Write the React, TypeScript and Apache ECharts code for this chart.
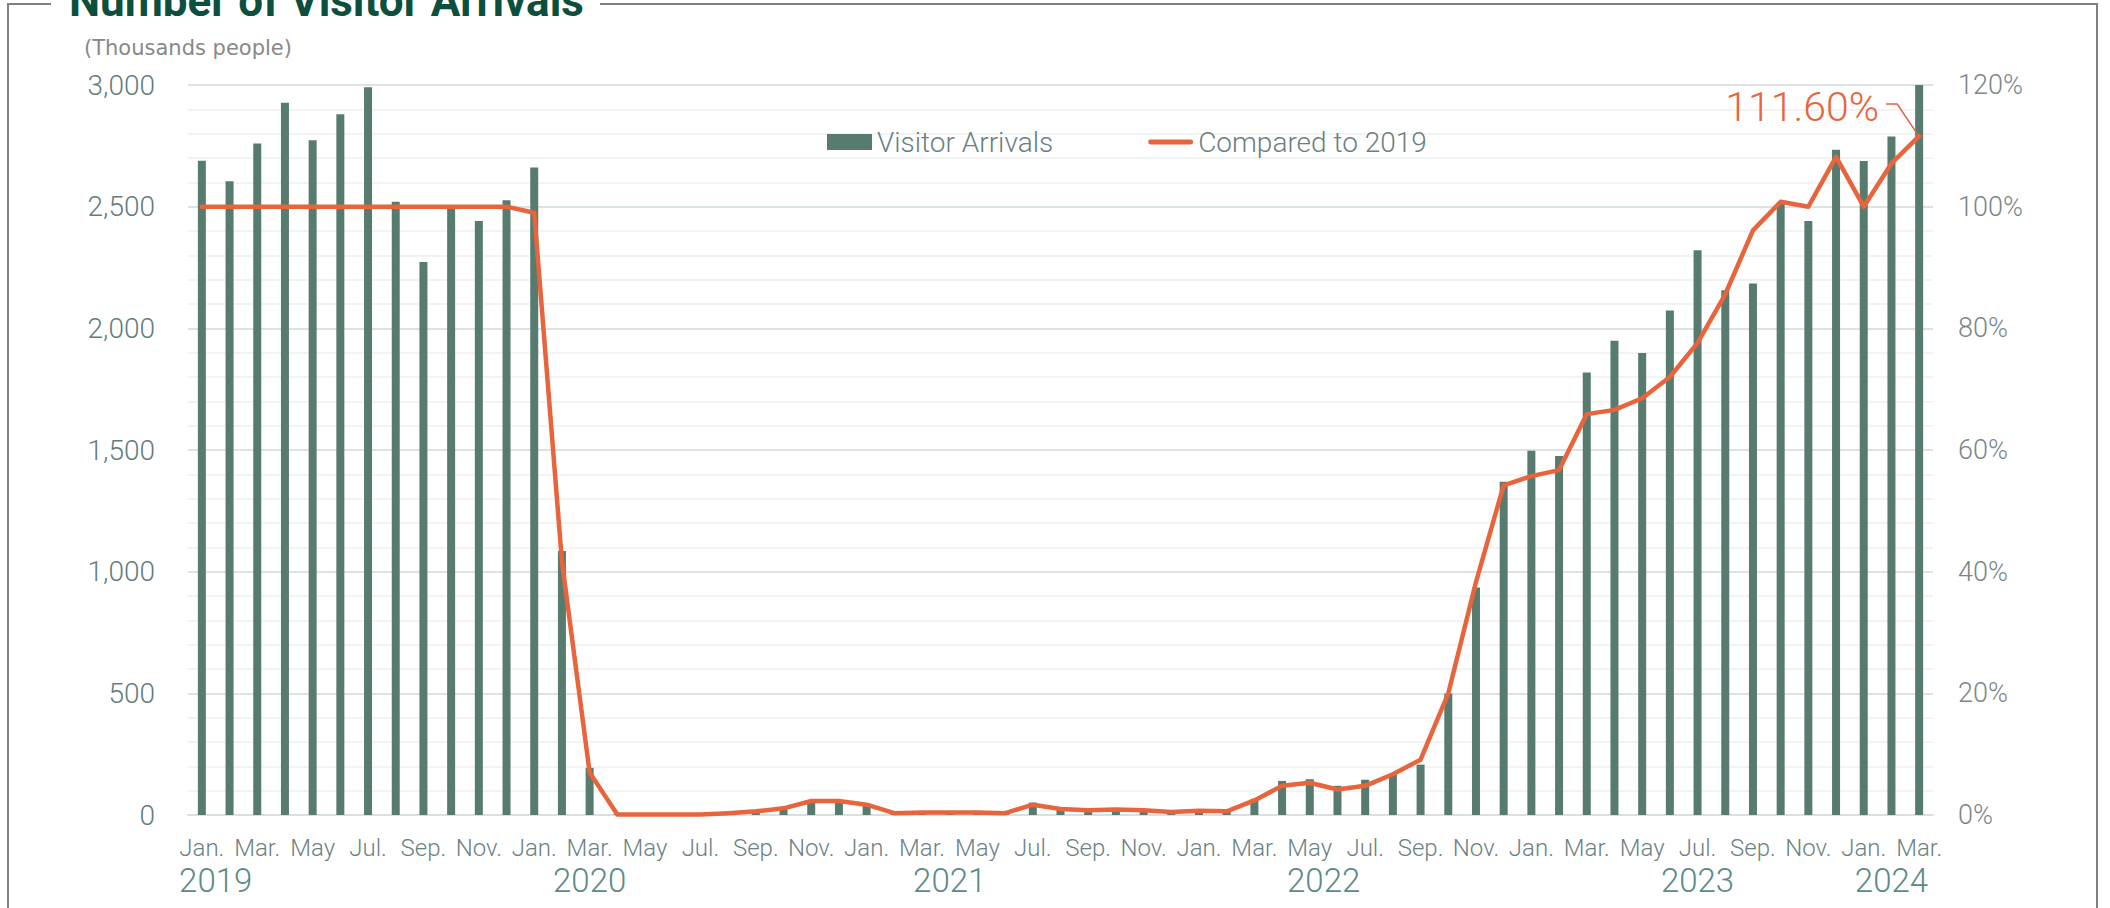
import React, { useEffect, useRef } from 'react';
import * as echarts from 'echarts';

const monthNames = ['Jan.', 'Feb.', 'Mar.', 'Apr.', 'May', 'Jun.', 'Jul.', 'Aug.', 'Sep.', 'Oct.', 'Nov.', 'Dec.'];
const years = [2019, 2020, 2021, 2022, 2023, 2024];
const monthsInYear = [12, 12, 12, 12, 12, 3];

// Visitor arrivals (thousands people)
const arrivals2019 = [2689, 2604, 2760, 2927, 2773, 2880, 2991, 2520, 2273, 2497, 2441, 2526];
const arrivals2020 = [2661, 1085, 194, 3, 2, 3, 4, 9, 14, 27, 57, 59];
const arrivals2021 = [47, 7, 12, 11, 10, 9, 51, 26, 18, 22, 21, 12];
const arrivals2022 = [18, 17, 66, 140, 147, 120, 145, 170, 207, 499, 935, 1370];
const arrivals2023 = [1497, 1475, 1818, 1949, 1899, 2073, 2321, 2157, 2184, 2517, 2441, 2734];
const arrivals2024 = [2688, 2788, 3082];

// Compared to 2019 (%)
const ratio2019 = [100, 100, 100, 100, 100, 100, 100, 100, 100, 100, 100, 100];
const ratio2020 = [99.0, 41.7, 7.0, 0.1, 0.1, 0.1, 0.1, 0.3, 0.6, 1.1, 2.3, 2.3];
const ratio2021 = [1.7, 0.3, 0.4, 0.4, 0.4, 0.3, 1.7, 1.0, 0.8, 0.9, 0.8, 0.5];
const ratio2022 = [0.7, 0.6, 2.4, 4.8, 5.3, 4.2, 4.8, 6.7, 9.1, 20.0, 38.3, 54.2];
const ratio2023 = [55.7, 56.7, 65.9, 66.6, 68.5, 72.0, 77.6, 85.6, 96.1, 100.8, 100.0, 108.2];
const ratio2024 = [100.0, 107.1, 111.6];

const leftTicks = { min: 0, max: 3000, interval: 500 };
const rightTicks = { min: 0, max: 120, interval: 20 };

// Year labels and the category position (index) they are centred on
const yearLabels = ['2019', '2020', '2021', '2022', '2023', '2024'];
const yearLabelAt = [0.5, 14, 27, 40.5, 54, 61];

const annotationText = '111.60%';

const FONT = 'Roboto';
const LINE_ICON = 'path://M5.5,0 L94.5,0 A5.5,5.5 0 0 1 94.5,11 L5.5,11 A5.5,5.5 0 0 1 5.5,0 Z';

export default function App() {
  const ref = useRef<HTMLDivElement>(null);

  useEffect(() => {
    document.body.style.margin = '0';
    const chart = echarts.init(ref.current as HTMLDivElement, null, { renderer: 'svg' });

    const categories: string[] = [];
    years.forEach((y, yi) => {
      for (let m = 0; m < monthsInYear[yi]; m++) categories.push(monthNames[m] + ' ' + y);
    });
    const arrivals = [
      ...arrivals2019, ...arrivals2020, ...arrivals2021, ...arrivals2022, ...arrivals2023, ...arrivals2024,
    ];
    const ratio = [...ratio2019, ...ratio2020, ...ratio2021, ...ratio2022, ...ratio2023, ...ratio2024];

    chart.setOption({
      animation: false,
      textStyle: { fontFamily: FONT },
      grid: { left: 188, right: 177, top: 85, bottom: 93 },
      legend: {
        left: 822,
        top: 123,
        itemWidth: 45,
        itemHeight: 16,
        itemGap: 95,
        textStyle: { fontSize: 28, color: '#6a7f80', fontFamily: FONT, fontWeight: 300 },
        data: [
          { name: 'Visitor Arrivals', icon: 'rect' },
          { name: 'Compared to 2019', icon: LINE_ICON },
        ],
      },
      xAxis: {
        type: 'category',
        data: categories,
        boundaryGap: true,
        axisLine: { show: true, lineStyle: { color: '#d9e0e2', width: 2 } },
        axisTick: { show: false },
        axisLabel: {
          interval: 1,
          margin: 21,
          fontSize: 24,
          fontWeight: 300,
          color: '#6b8282',
          formatter: (v: string) => v.split(' ')[0],
        },
      },
      yAxis: [
        {
          type: 'value',
          ...leftTicks,
          name: '(Thousands people)',
          nameLocation: 'end',
          nameGap: 27,
          nameTextStyle: { fontSize: 21, color: '#888888', fontFamily: 'DejaVu Sans', align: 'center' },
          axisLine: { show: false },
          axisTick: { show: false },
          axisLabel: {
            margin: 33,
            fontSize: 28,
            fontWeight: 300,
            color: '#637d7d',
            formatter: (v: number) => v.toLocaleString('en-US'),
          },
          splitLine: { show: true, lineStyle: { color: '#dce3e5', width: 2 } },
          minorTick: { show: false, splitNumber: 5 },
          minorSplitLine: { show: true, lineStyle: { color: '#eef1f1', width: 1.5 } },
        },
        {
          type: 'value',
          ...rightTicks,
          position: 'right',
          axisLine: { show: false },
          axisTick: { show: false },
          splitLine: { show: false },
          axisLabel: {
            margin: 25,
            fontSize: 27,
            fontWeight: 300,
            color: '#7a8787',
            formatter: '{value}%',
          },
        },
      ],
      series: [
        {
          name: 'Visitor Arrivals',
          type: 'bar',
          data: arrivals,
          barWidth: 8,
          clip: true,
          itemStyle: { color: '#577b6e' },
        },
        {
          name: 'Compared to 2019',
          type: 'line',
          yAxisIndex: 1,
          data: ratio,
          symbol: 'none',
          z: 5,
          lineStyle: { color: '#e8643c', width: 4.5, cap: 'round', join: 'round' },
          itemStyle: { color: '#e8643c' },
        },
      ],
    });

    const x0 = chart.convertToPixel({ xAxisIndex: 0 }, 0) as number;
    const x1 = chart.convertToPixel({ xAxisIndex: 0 }, 1) as number;
    const step = x1 - x0;
    const last = ratio.length - 1;
    const [px, py] = chart.convertToPixel({ seriesIndex: 1 }, [last, ratio[last]]) as number[];

    const graphics: any[] = [
      {
        type: 'polyline',
        shape: { points: [[51, 4], [8, 4], [8, 908]] },
        style: { stroke: '#808080', lineWidth: 2, fill: 'none' },
      },
      {
        type: 'polyline',
        shape: { points: [[600, 4], [2097, 4], [2097, 908]] },
        style: { stroke: '#808080', lineWidth: 2, fill: 'none' },
      },
      {
        type: 'text',
        style: {
          x: 69,
          y: 1,
          text: 'Number of Visitor Arrivals',
          fontFamily: FONT,
          fontWeight: 'bold',
          fontSize: 44,
          fill: '#0d4f3e',
          align: 'left',
          verticalAlign: 'middle',
        },
      },
      ...yearLabels.map((t, i) => ({
        type: 'text',
        style: {
          x: x0 + yearLabelAt[i] * step,
          y: 880,
          text: t,
          fontFamily: FONT,
          fontWeight: 300,
          fontSize: 33,
          fill: '#5b8a88',
          align: 'center',
          verticalAlign: 'middle',
        },
      })),
      {
        type: 'text',
        z: 10,
        style: {
          x: px - 40,
          y: py - 29,
          text: annotationText,
          fontFamily: FONT,
          fontWeight: 300,
          fontSize: 41,
          fill: '#e8643c',
          align: 'right',
          verticalAlign: 'middle',
        },
      },
      {
        type: 'polyline',
        z: 10,
        shape: { points: [[px - 33, py - 32], [px - 22, py - 32], [px - 1, py - 1]] },
        style: { stroke: '#e0604a', lineWidth: 1.5, fill: 'none' },
      },
    ];
    chart.setOption({ graphic: graphics });

    return () => chart.dispose();
  }, []);

  return <div ref={ref} style={{ width: 2110, height: 908 }} />;
}
